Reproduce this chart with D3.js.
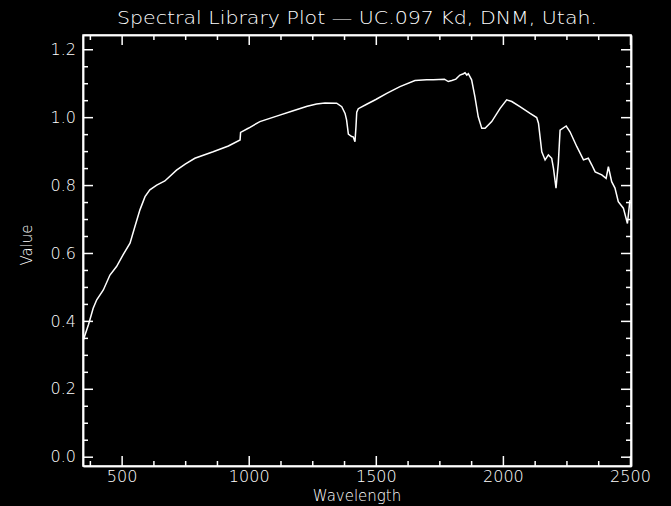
<!DOCTYPE html>
<html>
<head>
<meta charset="utf-8">
<script src="https://cdn.jsdelivr.net/npm/d3@7"></script>
<style>
  html, body { margin: 0; padding: 0; background: #000; }
  svg { display: block; }
  text { fill: #fff; font-family: "DejaVu Sans", sans-serif; font-weight: 200; }
</style>
</head>
<body>
<script>
var wavelength = [350, 370, 388, 402, 428, 454, 480, 506, 533, 552, 572, 592, 611, 638, 670, 716, 750, 788, 860, 920,
  966, 968, 1000, 1044, 1110, 1175, 1230, 1267, 1300, 1346, 1366, 1379, 1385, 1392, 1405, 1411, 1418, 1422, 1425, 1431,
  1464, 1500, 1543, 1595, 1654, 1700, 1726, 1770, 1785, 1799, 1815, 1831, 1845, 1851, 1858, 1864, 1877, 1890, 1903, 1917,
  1930, 1956, 1989, 2015, 2035, 2067, 2107, 2133, 2140, 2153, 2166, 2179, 2192, 2199, 2209, 2218, 2225, 2249, 2264, 2291,
  2317, 2336, 2350, 2363, 2389, 2406, 2415, 2428, 2441, 2454, 2474, 2490, 2497, 2500];
var reflectance = [0.345, 0.39, 0.437, 0.462, 0.491, 0.535, 0.56, 0.595, 0.629, 0.677, 0.727, 0.766, 0.786, 0.800, 0.812, 0.844, 0.862, 0.879, 0.898, 0.915,
  0.933, 0.955, 0.968, 0.987, 1.003, 1.019, 1.032, 1.039, 1.042, 1.041, 1.031, 1.011, 0.992, 0.950, 0.943, 0.942, 0.928, 0.972, 1.015, 1.025,
  1.038, 1.052, 1.070, 1.090, 1.108, 1.110, 1.110, 1.112, 1.105, 1.108, 1.112, 1.124, 1.128, 1.131, 1.124, 1.128, 1.110, 1.060, 1.001, 0.967,
  0.967, 0.987, 1.026, 1.051, 1.046, 1.031, 1.011, 0.999, 0.982, 0.898, 0.874, 0.889, 0.879, 0.849, 0.791, 0.864, 0.962, 0.974, 0.957, 0.913,
  0.874, 0.879, 0.859, 0.839, 0.830, 0.820, 0.854, 0.810, 0.791, 0.751, 0.732, 0.687, 0.736, 0.756];

var xMajor = [500, 1000, 1500, 2000, 2500];
var xMinor = [375, 625, 750, 875, 1125, 1250, 1375, 1625, 1750, 1875, 2125, 2250, 2375];
var yMajor = [0.0, 0.2, 0.4, 0.6, 0.8, 1.0, 1.2];
var yMinor = [0.05, 0.1, 0.15, 0.25, 0.3, 0.35, 0.45, 0.5, 0.55, 0.65, 0.7, 0.75, 0.85, 0.9, 0.95, 1.05, 1.1, 1.15];

var width = 671, height = 506;
var plotL = 83, plotR = 631, plotT = 35, plotB = 466;

var svg = d3.select('body').append('svg')
  .attr('width', width)
  .attr('height', height);

svg.append('rect').attr('width', width).attr('height', height).attr('fill', '#000');

var x = d3.scaleLinear().domain([348, 2504]).range([plotL, plotR]);
var y = d3.scaleLinear().domain([-0.0274, 1.242]).range([plotB, plotT]);

function styleAxis(g) {
  g.selectAll('path, line').attr('stroke', '#fff').attr('stroke-width', 1.5);
  g.selectAll('text').attr('fill', '#fff').attr('font-size', 16)
    .attr('font-family', '"DejaVu Sans", sans-serif').attr('font-weight', 200);
}

// bottom
svg.append('g').attr('transform', 'translate(0,' + plotB + ')')
  .call(d3.axisBottom(x).tickValues(xMajor).tickFormat(d3.format('d')).tickSizeInner(-10).tickSizeOuter(0).tickPadding(5))
  .call(styleAxis);
svg.append('g').attr('transform', 'translate(0,' + plotB + ')')
  .call(d3.axisBottom(x).tickValues(xMinor).tickFormat('').tickSizeInner(-5).tickSizeOuter(0))
  .call(styleAxis);
// top
svg.append('g').attr('transform', 'translate(0,' + plotT + ')')
  .call(d3.axisTop(x).tickValues(xMajor).tickFormat('').tickSizeInner(-10).tickSizeOuter(0))
  .call(styleAxis);
svg.append('g').attr('transform', 'translate(0,' + plotT + ')')
  .call(d3.axisTop(x).tickValues(xMinor).tickFormat('').tickSizeInner(-5).tickSizeOuter(0))
  .call(styleAxis);
// left
svg.append('g').attr('transform', 'translate(' + plotL + ',0)')
  .call(d3.axisLeft(y).tickValues(yMajor).tickFormat(d3.format('.1f')).tickSizeInner(-10).tickSizeOuter(0).tickPadding(7))
  .call(styleAxis);
svg.append('g').attr('transform', 'translate(' + plotL + ',0)')
  .call(d3.axisLeft(y).tickValues(yMinor).tickFormat('').tickSizeInner(-5).tickSizeOuter(0))
  .call(styleAxis);
// right
svg.append('g').attr('transform', 'translate(' + plotR + ',0)')
  .call(d3.axisRight(y).tickValues(yMajor).tickFormat('').tickSizeInner(-10).tickSizeOuter(0))
  .call(styleAxis);
svg.append('g').attr('transform', 'translate(' + plotR + ',0)')
  .call(d3.axisRight(y).tickValues(yMinor).tickFormat('').tickSizeInner(-5).tickSizeOuter(0))
  .call(styleAxis);

svg.append('rect')
  .attr('x', plotL).attr('y', plotT)
  .attr('width', plotR - plotL).attr('height', plotB - plotT)
  .attr('fill', 'none').attr('stroke', '#fff').attr('stroke-width', 1.5);

var line = d3.line()
  .x(function(d, i) { return x(wavelength[i]); })
  .y(function(d) { return y(d); });

svg.append('path')
  .datum(reflectance)
  .attr('d', line)
  .attr('fill', 'none')
  .attr('stroke', '#fff')
  .attr('stroke-width', 1.5);

svg.append('text')
  .attr('x', (plotL + plotR) / 2).attr('y', 24)
  .attr('text-anchor', 'middle')
  .attr('font-size', 18)
  .attr('textLength', 480)
  .attr('lengthAdjust', 'spacingAndGlyphs')
  .text('Spectral Library Plot \u2014 UC.097 Kd, DNM, Utah.');

svg.append('text')
  .attr('x', (plotL + plotR) / 2).attr('y', 501)
  .attr('text-anchor', 'middle')
  .attr('font-size', 15)
  .text('Wavelength');

svg.append('text')
  .attr('transform', 'translate(32,' + 245 + ') rotate(-90)')
  .attr('text-anchor', 'middle')
  .attr('font-size', 15)
  .text('Value');
</script>
</body>
</html>
